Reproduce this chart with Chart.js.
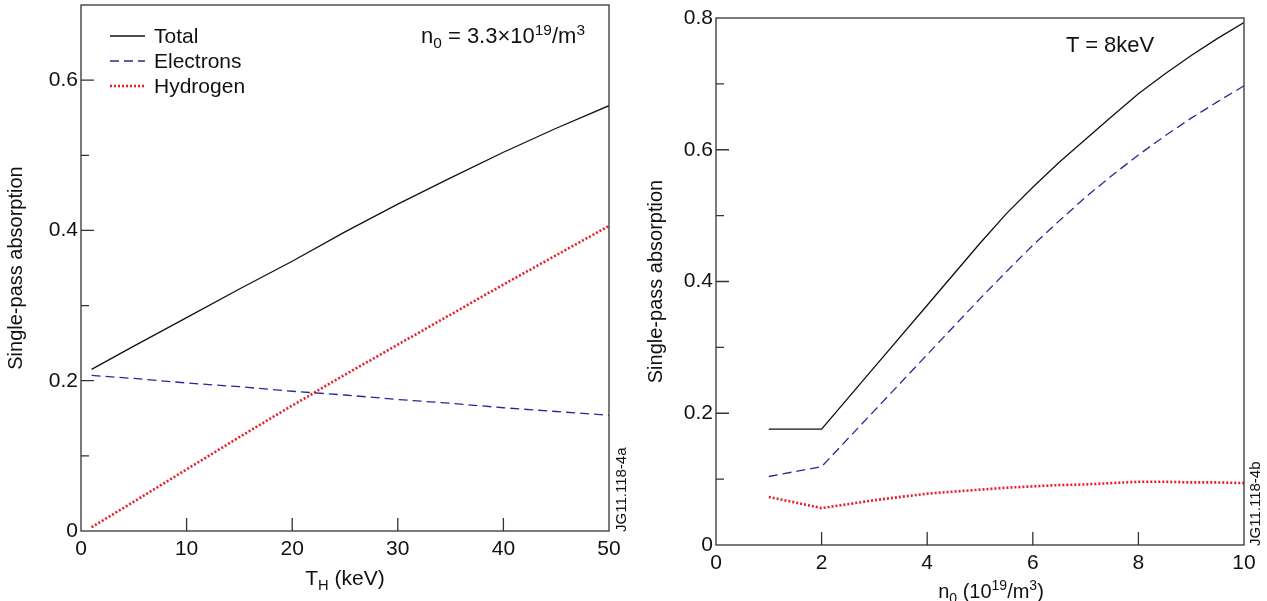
<!DOCTYPE html>
<html lang="en">
<head>
<meta charset="UTF-8">
<title>Single-pass absorption</title>
<script src="https://cdn.jsdelivr.net/npm/chart.js"></script>
<style>
    body {
        margin: 0;
        width: 1267px;
        height: 601px;
        overflow: hidden;
        background: #fff;
        position: relative;
        font-family: "Liberation Sans", Arial, sans-serif;
        color: #111;
    }
    canvas { position: absolute; top: 0; }
    #chartA { left: 0; }
    #chartB { left: 640px; }
    .lbl { position: absolute; font-size: 21px; white-space: nowrap; line-height: 23px; }
    .note { position: absolute; font-size: 22px; white-space: nowrap; }
    .tag { position: absolute; font-size: 15px; white-space: nowrap; transform: rotate(-90deg); transform-origin: left top; }
    sub, sup { font-size: 70%; line-height: 0; }
</style>
</head>
<body>

<canvas id="chartA" width="640" height="601"></canvas>
<canvas id="chartB" width="627" height="601"></canvas>

<div class="lbl" style="left:81px; width:528px; top:566px; text-align:center;">T<sub>H</sub> (keV)</div>
<div class="lbl" style="left:727px; width:528px; top:580px; text-align:center; font-size:20px;">n<sub>0</sub> (10<sup>19</sup>/m<sup>3</sup>)</div>
<div class="note" style="left:421px; top:23px;">n<sub>0</sub> = 3.3&times;10<sup>19</sup>/m<sup>3</sup></div>
<div class="note" style="left:1066px; top:32px;">T = 8keV</div>
<div class="tag" style="left:612px; top:532px;">JG11.118-4a</div>
<div class="tag" style="left:1246px; top:546px;">JG11.118-4b</div>

<script>
    // left panel: absorption vs hydrogen temperature (keV)
    const tempH = [1, 5, 10, 15, 20, 25, 30, 35, 40, 45, 50];
    const totalA = [0.215, 0.246, 0.284, 0.322, 0.359, 0.398, 0.435, 0.470, 0.504, 0.536, 0.566];
    const electronsA = [0.207, 0.203, 0.197, 0.192, 0.186, 0.181, 0.175, 0.170, 0.164, 0.159, 0.154];
    const hydrogenA = [0.005, 0.039, 0.082, 0.125, 0.167, 0.208, 0.248, 0.288, 0.328, 0.367, 0.406];

    // right panel: absorption vs density (10^19/m^3)
    const density = [1, 2, 3, 4, 5, 5.5, 6, 6.5, 7, 7.5, 8, 8.5, 9, 9.5, 10];
    const totalB = [0.176, 0.176, 0.270, 0.364, 0.458, 0.503, 0.543, 0.581, 0.616, 0.651, 0.685, 0.715, 0.743, 0.769, 0.793];
    const electronsB = [0.104, 0.119, 0.204, 0.289, 0.374, 0.415, 0.455, 0.492, 0.528, 0.561, 0.592, 0.621, 0.648, 0.673, 0.697];
    const hydrogenB = [0.073, 0.056, 0.068, 0.078, 0.084, 0.087, 0.089, 0.091, 0.092, 0.094, 0.096, 0.096, 0.095, 0.095, 0.094];

    const xTicksA = [0, 10, 20, 30, 40, 50];
    const yTicksA = [0, 0.2, 0.4, 0.6];
    const yMinorA = [0.1, 0.3, 0.5];
    const xTicksB = [0, 2, 4, 6, 8, 10];
    const yTicksB = [0, 0.2, 0.4, 0.6, 0.8];
    const yMinorB = [0.1, 0.3, 0.5, 0.7];

    const FONT = '"Liberation Sans", Arial, sans-serif';
    const INK = '#111';

    function pts(xs, ys) {
        return xs.map((x, i) => ({ x: x, y: ys[i] }));
    }

    function seriesSet(xs, tot, ele, hyd) {
        return [
            { label: 'Total', data: pts(xs, tot), borderColor: '#111', borderWidth: 1.3 },
            { label: 'Electrons', data: pts(xs, ele), borderColor: 'rgb(40,40,150)', borderWidth: 1.3, borderDash: [9, 5] },
            { label: 'Hydrogen', data: pts(xs, hyd), borderColor: 'rgb(232,30,40)', borderWidth: 2.6, borderDash: [2, 2] }
        ];
    }

    // frame, inward ticks and the legend drawn inside the plot
    const frameTicks = {
        id: 'frameTicks',
        afterDraw(chart, args, opts) {
            const ctx = chart.ctx;
            const a = chart.chartArea;
            const x = chart.scales.x, y = chart.scales.y;
            ctx.save();
            ctx.strokeStyle = '#333';
            ctx.lineWidth = 1.3;
            ctx.strokeRect(a.left, a.top, a.right - a.left, a.bottom - a.top);
            ctx.beginPath();
            x.ticks.forEach(t => {
                const px = x.getPixelForValue(t.value);
                if (px > a.left + 2 && px < a.right - 2) {
                    ctx.moveTo(px, a.bottom);
                    ctx.lineTo(px, a.bottom - 13);
                }
            });
            y.ticks.forEach(t => {
                const py = y.getPixelForValue(t.value);
                if (py > a.top + 2 && py < a.bottom - 2) {
                    ctx.moveTo(a.left, py);
                    ctx.lineTo(a.left + 13, py);
                }
            });
            opts.minor.forEach(v => {
                const py = y.getPixelForValue(v);
                ctx.moveTo(a.left, py);
                ctx.lineTo(a.left + 8, py);
            });
            ctx.stroke();

            ctx.font = '21px ' + FONT;
            ctx.fillStyle = INK;
            ctx.textBaseline = 'middle';
            chart.data.datasets.forEach((ds, i) => {
                const ly = opts.top + i * opts.gap;
                ctx.beginPath();
                ctx.strokeStyle = ds.borderColor;
                ctx.lineWidth = ds.borderWidth;
                ctx.setLineDash(ds.borderDash || []);
                ctx.moveTo(opts.left, ly);
                ctx.lineTo(opts.left + 35, ly);
                ctx.stroke();
                ctx.setLineDash([]);
                ctx.fillText(ds.label, opts.left + 44, ly + 1);
            });
            ctx.restore();
        }
    };

    function makeChart(id, cfg) {
        return new Chart(document.getElementById(id), {
            type: 'line',
            data: { datasets: seriesSet(cfg.xs, cfg.tot, cfg.ele, cfg.hyd) },
            options: {
                responsive: false,
                animation: false,
                elements: { point: { radius: 0 }, line: { tension: 0, fill: false } },
                layout: { padding: { top: cfg.padTop, right: cfg.padRight, left: 0, bottom: 0 } },
                plugins: {
                    legend: { display: false },
                    tooltip: { enabled: false },
                    frameTicks: { minor: cfg.minor, left: cfg.legLeft, top: cfg.legTop, gap: cfg.legGap }
                },
                scales: {
                    x: {
                        type: 'linear',
                        min: cfg.xTicks[0],
                        max: cfg.xTicks[cfg.xTicks.length - 1],
                        grid: { display: false, drawTicks: false },
                        border: { display: false },
                        afterBuildTicks: s => { s.ticks = cfg.xTicks.map(v => ({ value: v })); },
                        afterFit: s => {
                            s.height = 601 - cfg.plotBottom;
                            s.paddingLeft = 0;
                            s.paddingRight = 0;
                        },
                        ticks: {
                            color: INK,
                            padding: 6,
                            maxRotation: 0,
                            font: { family: FONT, size: 21 },
                            callback: v => String(v)
                        }
                    },
                    y: {
                        min: 0,
                        max: cfg.yMax,
                        grid: { display: false, drawTicks: false },
                        border: { display: false },
                        afterBuildTicks: s => { s.ticks = cfg.yTicks.map(v => ({ value: v })); },
                        afterFit: s => {
                            s.width = cfg.plotLeft;
                            s.paddingTop = 0;
                            s.paddingBottom = 0;
                        },
                        ticks: {
                            color: INK,
                            padding: 3,
                            font: { family: FONT, size: 21 },
                            callback: v => (v === 0 ? '0' : v.toFixed(1))
                        },
                        title: {
                            display: true,
                            text: 'Single-pass absorption',
                            color: INK,
                            font: { family: FONT, size: 20 },
                            padding: { top: 4, bottom: 0 }
                        }
                    }
                }
            },
            plugins: [frameTicks]
        });
    }

    makeChart('chartA', {
        xs: tempH, tot: totalA, ele: electronsA, hyd: hydrogenA,
        xTicks: xTicksA, yTicks: yTicksA, minor: yMinorA, yMax: 0.7,
        plotLeft: 81, plotBottom: 531, padTop: 5, padRight: 31,
        legLeft: 110, legTop: 36, legGap: 25
    });

    makeChart('chartB', {
        xs: density, tot: totalB, ele: electronsB, hyd: hydrogenB,
        xTicks: xTicksB, yTicks: yTicksB, minor: yMinorB, yMax: 0.8,
        plotLeft: 76, plotBottom: 545, padTop: 18, padRight: 23,
        legLeft: 745, legTop: 46, legGap: 26
    });
</script>
</body>
</html>
